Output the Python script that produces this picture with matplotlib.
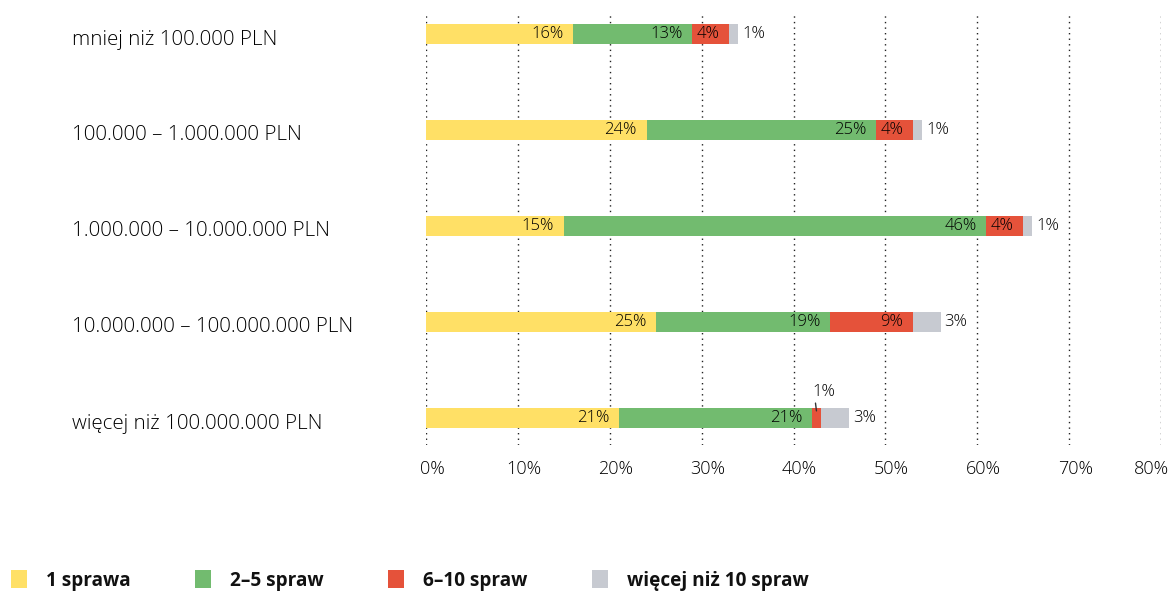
import matplotlib
matplotlib.use("Agg")
import matplotlib.pyplot as plt
from matplotlib.patches import Patch
from matplotlib.transforms import ScaledTranslation
import numpy as np

plt.rcParams['font.family'] = ['Open Sans', 'DejaVu Sans']

categories = [
    "mniej niż 100.000 PLN",
    "100.000 – 1.000.000 PLN",
    "1.000.000 – 10.000.000 PLN",
    "10.000.000 – 100.000.000 PLN",
    "więcej niż 100.000.000 PLN",
]
series_names = ["1 sprawa", "2–5 spraw", "6–10 spraw", "więcej niż 10 spraw"]
one_case = [16, 24, 15, 25, 21]
two_to_five = [13, 25, 46, 19, 21]
six_to_ten = [4, 4, 4, 9, 1]
more_than_ten = [1, 1, 1, 3, 3]
x_ticks = [0, 10, 20, 30, 40, 50, 60, 70, 80]
x_tick_labels = ["0%", "10%", "20%", "30%", "40%", "50%", "60%", "70%", "80%"]

colors = ["#FFE066", "#72BB6F", "#E5523A", "#C7CAD1"]
text_color = "#000000"
light = "light"

W, H, DPI = 1173, 592, 100
fig = plt.figure(figsize=(W / DPI, H / DPI), dpi=DPI)
ax_left, ax_right = 426 / W, 1161 / W
ax_top, ax_bottom = 1 - 15 / H, 1 - 445 / H
ax = fig.add_axes([ax_left, ax_bottom, ax_right - ax_left, ax_top - ax_bottom])

y = np.arange(len(categories))
series = [one_case, two_to_five, six_to_ten, more_than_ten]
left = np.zeros(len(categories))
bar_h = 20 / 96
for vals, col in zip(series, colors):
    ax.barh(y, vals, left=left, height=bar_h, color=col, zorder=2)
    left = left + np.array(vals)

# value labels: inside end for first three segments, outside for the last one
fs_val = 12
for i in range(len(categories)):
    cum = 0
    for k, vals in enumerate(series):
        v = vals[i]
        end = cum + v
        lab = f"{v}%"
        if k < 3:
            if k == 2 and v <= 1:
                # too narrow for an inside label: put it above with a leader line
                mid = cum + v / 2
                ax.annotate(lab, xy=(mid, y[i] - bar_h / 2 + 0.03),
                            xytext=(mid + 0.85, y[i] - bar_h / 2 - 0.08),
                            ha="center", va="bottom", fontsize=fs_val, color=text_color,
                            fontweight=light,
                            arrowprops=dict(arrowstyle="-", color="#333333", lw=1,
                                            shrinkA=0, shrinkB=0, relpos=(0.1, 0.0)),
                            zorder=4)
            else:
                ax.annotate(lab, xy=(end, y[i]), xytext=(-7, 0), textcoords="offset points",
                            ha="right", va="center", fontsize=fs_val, color=text_color,
                            fontweight=light, zorder=4)
        else:
            ax.annotate(lab, xy=(end, y[i]), xytext=(3, 0), textcoords="offset points",
                        ha="left", va="center", fontsize=fs_val, color=text_color,
                        fontweight=light, zorder=4)
        cum = end

ax.set_xlim(0, 80)
ax.set_ylim(4 + 27 / 96, -19 / 96)
ax.set_xticks(x_ticks)
ax.set_xticklabels(x_tick_labels, fontsize=13, color=text_color, fontweight=light)
ax.set_yticks(y)
ax.set_yticklabels(categories, fontsize=14.8, color=text_color, ha="left",
                   fontweight=light)
ax.tick_params(axis="y", length=0, pad=(426 - 72) * 72 / DPI)
ax.tick_params(axis="x", length=0, pad=11)
xt = ax.get_xticklabels()
for lbl in xt[:-1]:
    lbl.set_transform(lbl.get_transform() + ScaledTranslation(6 / DPI, 0, fig.dpi_scale_trans))
xt[-1].set_horizontalalignment("right")
xt[-1].set_transform(xt[-1].get_transform() + ScaledTranslation(8 / DPI, 0, fig.dpi_scale_trans))
for lbl in ax.get_yticklabels():
    lbl.set_transform(lbl.get_transform() + ScaledTranslation(0, -3 / DPI, fig.dpi_scale_trans))
for s in ax.spines.values():
    s.set_visible(False)
ax.grid(axis="x", color="#222222", linestyle=(0, (1, 3)), linewidth=1, zorder=0)
ax.set_axisbelow(True)

handles = [Patch(facecolor=c, edgecolor="none") for c in colors]
fig.legend(handles, series_names, loc="lower left", bbox_to_anchor=(-0.002, -0.02),
           ncol=4, frameon=False, prop=dict(weight="bold", size=13.7),
           handlelength=0.85, handleheight=1.1, handletextpad=1.0,
           columnspacing=3.38, borderaxespad=0.3, labelcolor="#111111")

fig.savefig("out.png", dpi=DPI)
